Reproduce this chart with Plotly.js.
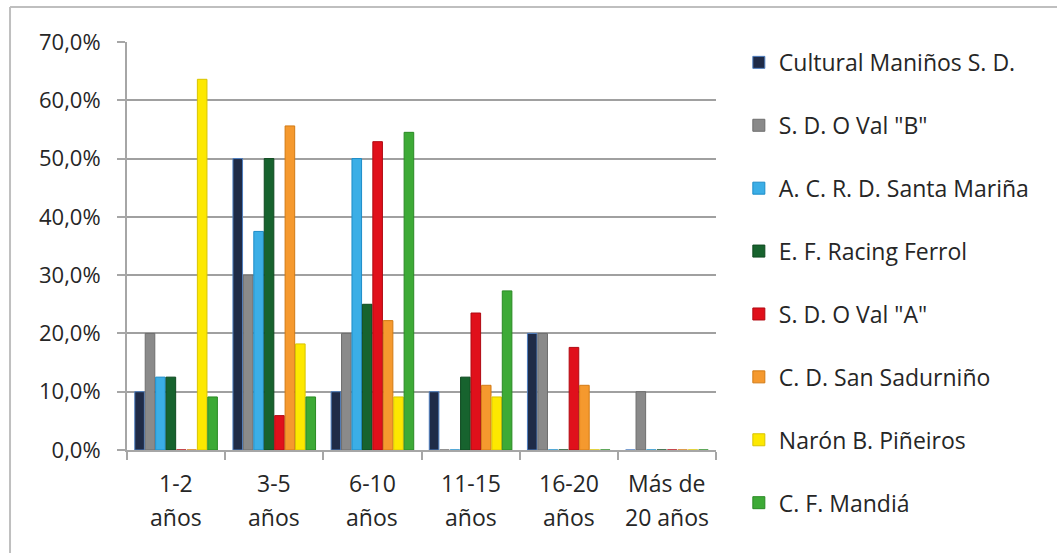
<!DOCTYPE html>
<html>
<head>
<meta charset="utf-8">
<script src="https://cdn.plot.ly/plotly-3.0.1.min.js"></script>
<style>html,body{margin:0;padding:0;background:#fff;}#chart{width:1057px;height:553px;}</style>
</head>
<body>
<div id="chart"></div>
<script>
const categories = ["1-2 años", "3-5 años", "6-10 años", "11-15 años", "16-20 años", "Más de 20 años"];
const tickLine1 = ["1-2", "3-5", "6-10", "11-15", "16-20", "Más de"];
const tickLine2 = ["años", "años", "años", "años", "años", "20 años"];
const seriesNames = ["Cultural Maniños S. D.", "S. D. O Val \"B\"", "A. C. R. D. Santa Mariña", "E. F. Racing Ferrol", "S. D. O Val \"A\"", "C. D. San Sadurniño", "Narón B. Piñeiros", "C. F. Mandiá"];
const culturalManinos = [0.100, 0.500, 0.100, 0.100, 0.200, 0.000];
const valB = [0.200, 0.300, 0.200, 0.000, 0.200, 0.100];
const santaMarina = [0.125, 0.375, 0.500, 0.000, 0.000, 0.000];
const racingFerrol = [0.125, 0.500, 0.250, 0.125, 0.000, 0.000];
const valA = [0.000, 0.059, 0.529, 0.235, 0.176, 0.000];
const sanSadurnino = [0.000, 0.556, 0.222, 0.111, 0.111, 0.000];
const naronPineiros = [0.636, 0.182, 0.091, 0.091, 0.000, 0.000];
const mandia = [0.091, 0.091, 0.545, 0.273, 0.000, 0.000];

const seriesValues = [culturalManinos, valB, santaMarina, racingFerrol, valA, sanSadurnino, naronPineiros, mandia];
const fillColors = ["#1F2B47", "#8A8A8A", "#3BAEE6", "#17632E", "#E0101B", "#F5992E", "#FDE800", "#3DAA36"];
const lineColors = ["#4F7FC0", "#6E6E6E", "#1C8CC8", "#0F4A20", "#B00A12", "#D27A14", "#D8C400", "#2A8A24"];
const FONT = "'Open Sans', 'Noto Sans', sans-serif";

const traces = seriesNames.map((name, i) => ({
  type: "bar",
  name: name,
  x: categories,
  y: seriesValues[i],
  legendgroup: "g" + i,
  marker: {color: fillColors[i], line: {color: lineColors[i], width: 1}},
  hoverinfo: "x+y+name"
}));

const annotations = [];
categories.forEach((c, i) => {
  annotations.push({x: c, xref: "x", y: -0.081, yref: "paper", yanchor: "middle", xanchor: "center",
    text: tickLine1[i], showarrow: false, font: {family: FONT, size: 23, color: "#262626"}});
  annotations.push({x: c, xref: "x", y: -0.164, yref: "paper", yanchor: "middle", xanchor: "center",
    text: tickLine2[i], showarrow: false, font: {family: FONT, size: 23, color: "#262626"}});
});

const layout = {
  width: 1057,
  height: 553,
  margin: {l: 127, r: 341, t: 42, b: 103},
  paper_bgcolor: "#ffffff",
  plot_bgcolor: "#ffffff",
  separators: ",.",
  font: {family: FONT, size: 20, color: "#262626"},
  barmode: "group",
  bargap: 0.15,
  bargroupgap: 0.08,
  showlegend: true,
  legend: {
    x: 0.699, xref: "container", xanchor: "left",
    y: 0.926, yref: "container", yanchor: "top",
    traceorder: "grouped",
    tracegroupgap: 30,
    maxheight: 2000,
    font: {family: FONT, size: 23, color: "#262626"},
    bgcolor: "rgba(0,0,0,0)"
  },
  xaxis: {
    type: "category",
    showticklabels: false,
    showgrid: false,
    showline: true,
    linecolor: "#A6A6A6",
    linewidth: 2,
    ticks: "outside",
    ticklen: 8,
    tickcolor: "#A6A6A6",
    tickwidth: 2,
    tickson: "boundaries",
    zeroline: false
  },
  yaxis: {
    range: [0, 0.7],
    dtick: 0.1,
    tickformat: ".1%",
    showgrid: true,
    gridcolor: "#A0A0A0",
    gridwidth: 2,
    showline: true,
    linecolor: "#A6A6A6",
    linewidth: 2,
    ticks: "outside",
    ticklen: 8,
    tickcolor: "#A6A6A6",
    tickwidth: 2,
    ticklabelstandoff: 12,
    tickfont: {family: FONT, size: 22, color: "#262626"},
    zeroline: false
  },
  annotations: annotations,
  shapes: [
    {type: "line", xref: "paper", yref: "paper", x0: -0.1986, x1: -0.1986, y0: 1.0858, y1: -0.26, line: {color: "#BFBFBF", width: 2}},
    {type: "line", xref: "paper", yref: "paper", x0: -0.1986, x1: 1.6, y0: 1.0858, y1: 1.0858, line: {color: "#BFBFBF", width: 2}}
  ]
};

Plotly.newPlot("chart", traces, layout, {displayModeBar: false, staticPlot: true});
</script>
</body>
</html>
